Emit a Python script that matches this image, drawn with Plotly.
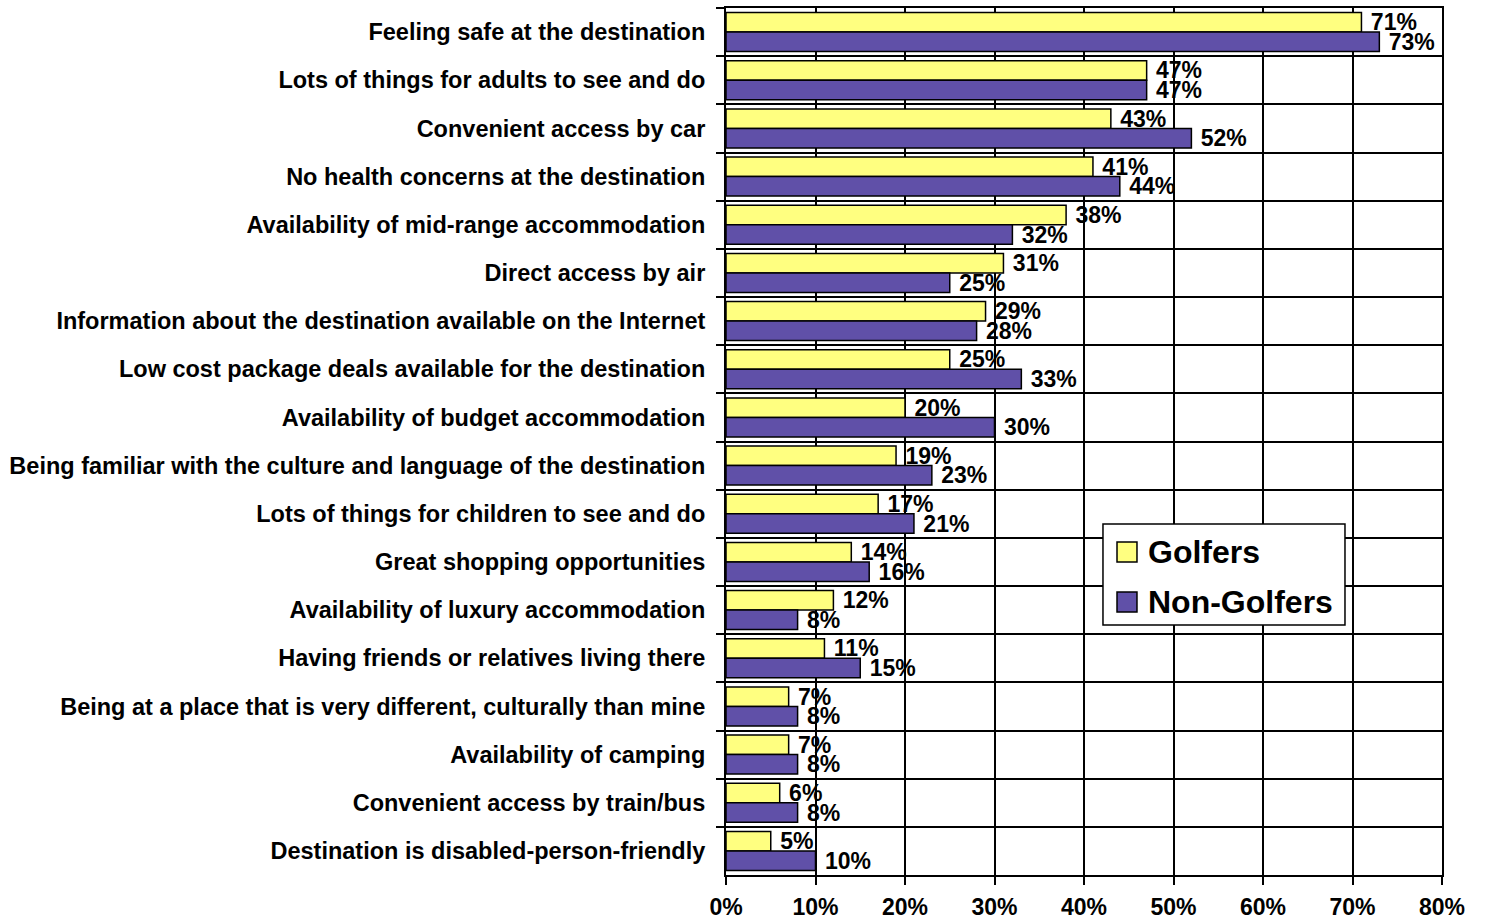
import plotly.graph_objects as go

categories = [
    "Feeling safe at the destination",
    "Lots of things for adults to see and do",
    "Convenient access by car",
    "No health concerns at the destination",
    "Availability of mid-range accommodation",
    "Direct access by air",
    "Information about the destination available on the Internet",
    "Low cost package deals available for the destination",
    "Availability of budget accommodation",
    "Being familiar with the culture and language of the destination",
    "Lots of things for children to see and do",
    "Great shopping opportunities",
    "Availability of luxury accommodation",
    "Having friends or relatives living there",
    "Being at a place that is very different, culturally than mine",
    "Availability of camping",
    "Convenient access by train/bus",
    "Destination is disabled-person-friendly",
]
series_names = ["Golfers", "Non-Golfers"]
golfers = [71, 47, 43, 41, 38, 31, 29, 25, 20, 19, 17, 14, 12, 11, 7, 7, 6, 5]
non_golfers = [73, 47, 52, 44, 32, 25, 28, 33, 30, 23, 21, 16, 8, 15, 8, 8, 8, 10]
x_ticks = [0, 10, 20, 30, 40, 50, 60, 70, 80]

FONT = "Liberation Sans, Arial, sans-serif"
COLORS = ["#FFFF80", "#6050A8"]

fig = go.Figure()
for name, vals, col in zip(series_names, [golfers, non_golfers], COLORS):
    fig.add_trace(go.Bar(
        name=name, y=categories, x=vals, orientation="h",
        marker=dict(color=col, line=dict(color="black", width=1.5)),
        text=[f" {v}%" for v in vals], textposition="outside",
        constraintext="none",
        textfont=dict(family=FONT, size=23, color="black", weight="bold"),
        cliponaxis=False, showlegend=False,
    ))

# custom legend (box, swatches, labels)
shapes = [dict(type="rect", xref="paper", yref="paper",
               x0=0.5265, x1=0.8645, y0=0.2884, y1=0.4048,
               fillcolor="white", line=dict(color="black", width=1.5), layer="above")]
annotations = []
for i, (name, col) in enumerate(zip(series_names, COLORS)):
    y0 = 0.3610 - i * 0.0577
    shapes.append(dict(type="rect", xref="paper", yref="paper",
                       x0=0.5461, x1=0.5740, y0=y0, y1=y0 + 0.0231,
                       fillcolor=col, line=dict(color="black", width=1.5), layer="above"))
    annotations.append(dict(xref="paper", yref="paper", x=0.5866, y=y0 + 0.0115,
                            xanchor="left", yanchor="middle", showarrow=False,
                            text=name,
                            font=dict(family=FONT, size=32, color="black", weight="bold")))

fig.update_layout(
    width=1487, height=922,
    margin=dict(l=726, r=45, t=8, b=47),
    paper_bgcolor="white", plot_bgcolor="white",
    barmode="group", bargap=0.19, bargroupgap=0,
    font=dict(family=FONT, color="black"),
    showlegend=False,
    shapes=shapes, annotations=annotations,
)
fig.update_xaxes(
    range=[0, 80], tickvals=x_ticks, ticktext=[f"{v}%" for v in x_ticks],
    showgrid=True, gridcolor="black", gridwidth=1.5,
    showline=True, linecolor="black", linewidth=2, mirror=True,
    ticks="outside", ticklen=8, tickwidth=1.5, tickcolor="black",
    tickfont=dict(family=FONT, size=23, color="black", weight="bold"),
    ticklabelstandoff=2, zeroline=False, automargin=False,
)
fig.update_yaxes(
    autorange="reversed", tickson="boundaries",
    showgrid=True, gridcolor="black", gridwidth=2,
    showline=True, linecolor="black", linewidth=2, mirror=True,
    ticks="outside", ticklen=8, tickwidth=1.5, tickcolor="black",
    tickfont=dict(family=FONT, size=23.5, color="black", weight="bold"),
    ticklabelstandoff=14, automargin=False,
)

fig.write_html("out.html")
